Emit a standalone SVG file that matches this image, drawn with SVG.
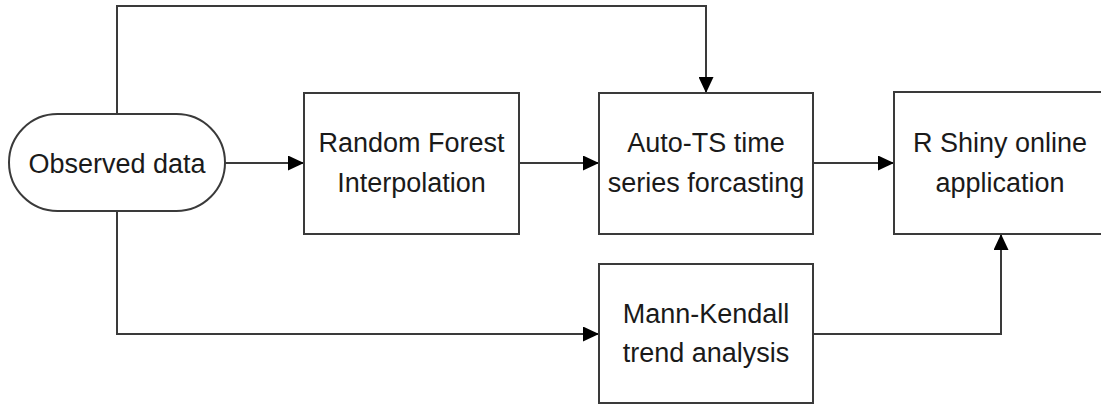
<svg xmlns="http://www.w3.org/2000/svg" width="1101" height="404" viewBox="0 0 1101 404">
  <style>
    .node { fill: #ffffff; stroke: #3a3a3a; stroke-width: 2; }
    .lbl { font-family: "Liberation Sans", Arial, sans-serif; font-size: 27px; fill: #1a1a1a; text-anchor: middle; }
    .conn { fill: none; stroke: #3a3a3a; stroke-width: 2; }
  </style>
  <defs>
    <marker id="arrow" viewBox="0 0 16 15" refX="16" refY="7.5" markerWidth="16" markerHeight="15" markerUnits="userSpaceOnUse" orient="auto">
      <path d="M0,0 L16,7.5 L0,15 Z" fill="#000000"/>
    </marker>
  </defs>
  <rect width="1101" height="404" fill="#ffffff"/>
  <g id="connectors">
    <path class="conn" d="M225,163 H304" marker-end="url(#arrow)"/>
    <path class="conn" d="M519,163 H599" marker-end="url(#arrow)"/>
    <path class="conn" d="M813,163 H894" marker-end="url(#arrow)"/>
    <path class="conn" d="M117,114 V6 H706 V93" marker-end="url(#arrow)"/>
    <path class="conn" d="M117,211 V334 H599" marker-end="url(#arrow)"/>
    <path class="conn" d="M813,334 H1001 V234" marker-end="url(#arrow)"/>
  </g>
  <g id="observed">
    <rect class="node" x="9" y="114" width="216" height="97" rx="48.5" ry="48.5"/>
    <text class="lbl" x="117" y="172.5">Observed data</text>
  </g>
  <g id="random-forest">
    <rect class="node" x="304" y="93" width="215" height="141"/>
    <text class="lbl" x="411.5" y="152">Random Forest</text>
    <text class="lbl" x="411.5" y="192">Interpolation</text>
  </g>
  <g id="auto-ts">
    <rect class="node" x="599" y="93" width="214" height="141"/>
    <text class="lbl" x="706" y="152">Auto-TS time</text>
    <text class="lbl" x="706" y="192">series forcasting</text>
  </g>
  <g id="shiny">
    <rect class="node" x="894" y="92" width="214" height="142"/>
    <text class="lbl" x="1000" y="152">R Shiny online</text>
    <text class="lbl" x="1000" y="192">application</text>
  </g>
  <g id="mann-kendall">
    <rect class="node" x="599" y="264" width="214" height="139"/>
    <text class="lbl" x="706" y="323">Mann-Kendall</text>
    <text class="lbl" x="706" y="362">trend analysis</text>
  </g>
</svg>
